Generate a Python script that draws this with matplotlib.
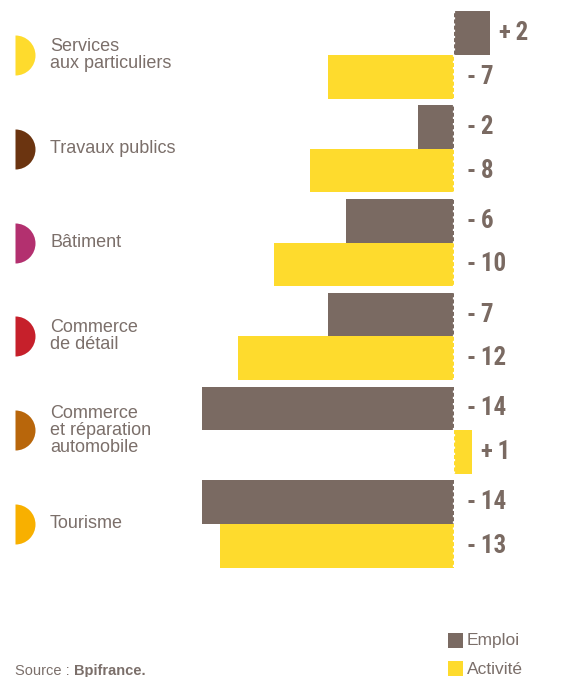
import matplotlib.pyplot as plt
from matplotlib.patches import Rectangle
from matplotlib.transforms import blended_transform_factory

# sector names, half-disc colours and the two change series (in %)
sectors = ["Services\naux particuliers", "Travaux publics", "Bâtiment",
           "Commerce\nde détail", "Commerce\net réparation\nautomobile", "Tourisme"]
sector_colors = ["#fedb2d", "#6b3410", "#b3306f", "#c6202b", "#b8660b", "#f8b000"]
emploi = [2, -2, -6, -7, -14, -14]
activite = [-7, -8, -10, -12, 1, -13]

GREY = "#7a6a62"
YELLOW = "#fedb2d"
TEXT = "#7b6f6a"

W, H = 587, 677
ZERO_PX, PX_PER_UNIT = 453.5, 18.0
FIRST_PX, STEP_PX = 55.0, 93.8

fig = plt.figure(figsize=(W / 100, H / 100), dpi=100)
ax = fig.add_axes([0, 0, 1, 1])
ax.set_xlim(-ZERO_PX / PX_PER_UNIT, (W - ZERO_PX) / PX_PER_UNIT)
ax.set_ylim((H - FIRST_PX) / STEP_PX, -FIRST_PX / STEP_PX)
ax.axis("off")

bar_h = 0.465
idx = list(range(len(sectors)))
y_emp = [i - bar_h / 2 for i in idx]
y_act = [i + bar_h / 2 for i in idx]
ax.barh(y_emp, emploi, height=bar_h, color=GREY, linewidth=0)
ax.barh(y_act, activite, height=bar_h, color=YELLOW, linewidth=0)

# white dotted zero line
ax.plot([0, 0], [-bar_h, len(sectors) - 1 + bar_h], color="white", lw=1.6,
        linestyle=(0, (1, 1.8)), zorder=3)

num_font = dict(family=["Roboto Condensed", "DejaVu Sans"], stretch="condensed",
                weight="bold", fontsize=18, color=GREY)


def label(v, y):
    txt = ("+\u2009" if v > 0 else "-\u2009") + str(abs(v))
    if v > 0:
        ax.annotate(txt, (v, y), xytext=(6.5, 0), textcoords="offset points",
                    ha="left", va="center", **num_font)
    else:
        ax.annotate(txt, (0, y), xytext=(9.5, 0), textcoords="offset points",
                    ha="left", va="center", **num_font)


for v, y in zip(emploi, y_emp):
    label(v, y)
for v, y in zip(activite, y_act):
    label(v, y)

# half discs and sector names on the left
tr = blended_transform_factory(ax.transAxes, ax.transData)
for i, (name, c) in enumerate(zip(sectors, sector_colors)):
    ax.plot(15 / W, i, marker="o", markersize=28.8, fillstyle="right",
            markerfacecolor=c, markerfacecoloralt="none", markeredgewidth=0,
            transform=tr, clip_on=False)
    ax.text(50 / W, i, name, transform=tr, ha="left", va="center",
            fontsize=13, color=TEXT, family="Liberation Sans", linespacing=1.0)

# legend
for k, (name, c) in enumerate([("Emploi", GREY), ("Activité", YELLOW)]):
    top = 633 + 28 * k
    fig.patches.append(Rectangle((448 / W, 1 - (top + 15) / H), 15 / W, 15 / H,
                                 transform=fig.transFigure, color=c, lw=0))
    fig.text(467 / W, 1 - (top + 8) / H, name, ha="left", va="center",
             fontsize=12.5, color=TEXT, family="Liberation Sans")

# source line
r = fig.canvas.get_renderer()
src = fig.text(15 / W, 1 - 675 / H, "Source : ", ha="left", va="baseline",
               fontsize=10.5, color=TEXT, family="Liberation Sans")
bb = src.get_window_extent(renderer=r)
fig.text(bb.x1 / W, 1 - 675 / H, "Bpifrance.", ha="left", va="baseline",
         fontsize=10.5, color=TEXT, family="Liberation Sans", weight="bold")

fig.savefig("out.png", dpi=100)
